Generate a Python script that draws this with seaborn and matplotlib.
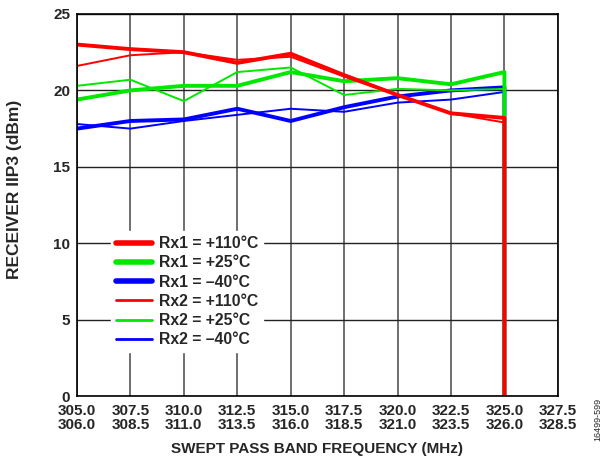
import numpy as np
import pandas as pd
import matplotlib
matplotlib.use("Agg")
import matplotlib.pyplot as plt
import seaborn as sns

# frequency points (MHz, Rx1 scale); the last point is the drop-out at 325.0
freq = [305.0, 307.5, 310.0, 312.5, 315.0, 317.5, 320.0, 322.5, 325.0, 325.0]

rx1_110 = [23.0, 22.7, 22.5, 21.8, 22.4, 21.0, 19.7, 18.5, 18.2, 0.0]
rx1_25 = [19.4, 20.0, 20.3, 20.3, 21.2, 20.6, 20.8, 20.4, 21.2, 0.0]
rx1_m40 = [17.5, 18.0, 18.1, 18.8, 18.0, 18.9, 19.6, 20.0, 20.2, 0.0]
rx2_110 = [21.6, 22.3, 22.5, 22.0, 22.2, 20.9, 19.7, 18.5, 17.9, 0.0]
rx2_25 = [20.3, 20.7, 19.3, 21.2, 21.5, 19.7, 20.1, 20.0, 20.1, 0.0]
rx2_m40 = [17.8, 17.5, 18.0, 18.4, 18.8, 18.6, 19.2, 19.4, 19.9, 0.0]

xticks = [305.0, 307.5, 310.0, 312.5, 315.0, 317.5, 320.0, 322.5, 325.0, 327.5]
xticks_rx2 = [306.0, 308.5, 311.0, 313.5, 316.0, 318.5, 321.0, 323.5, 326.0, 328.5]
yticks = [0, 5, 10, 15, 20, 25]

sns.set_style("white")
plt.rcParams['font.family'] = ['Liberation Sans', 'DejaVu Sans']
plt.rcParams['font.weight'] = 'bold'

RED, GREEN, BLUE = '#FF0000', '#00E800', '#0000FF'

series = [
    ('Rx1 = +110°C', rx1_110, RED, 2.8),
    ('Rx1 = +25°C', rx1_25, GREEN, 2.8),
    ('Rx1 = \u201340°C', rx1_m40, BLUE, 2.8),
    ('Rx2 = +110°C', rx2_110, RED, 1.4),
    ('Rx2 = +25°C', rx2_25, GREEN, 1.4),
    ('Rx2 = \u201340°C', rx2_m40, BLUE, 1.4),
]

fig = plt.figure(figsize=(6.11, 4.66), dpi=100)
ax = fig.add_axes([0.126, 0.150, 0.787, 0.820])

# draw blue first, then green, red on top
draw_order = [2, 5, 1, 4, 0, 3]
handles = {}
for i in draw_order:
    label, vals, col, lw = series[i]
    df = pd.DataFrame({'f': freq, 'v': vals})
    sns.lineplot(data=df, x='f', y='v', ax=ax, color=col, linewidth=lw,
                 estimator=None, sort=False, label=label, legend=False)
    handles[i] = ax.lines[-1]

ax.set_xlim(305, 327.5)
ax.set_ylim(0, 25)
ax.set_xticks(xticks)
ax.set_xticklabels([f"{a:.1f}\n{b:.1f}" for a, b in zip(xticks, xticks_rx2)],
                   fontsize=11, fontweight='bold', linespacing=0.95)
ax.set_yticks(yticks)
ax.set_yticklabels([str(t) for t in yticks], fontsize=11, fontweight='bold')
ax.tick_params(axis='x', length=0, pad=6)
ax.tick_params(axis='y', length=0, pad=5)

ax.grid(True, axis='x', color='#555555', linewidth=1.2)
ax.grid(True, axis='y', color='#222222', linewidth=1.0)
ax.set_axisbelow(True)
for s in ax.spines.values():
    s.set_color('black')
    s.set_linewidth(1.2)

ax.set_xlabel('SWEPT PASS BAND FREQUENCY (MHz)', fontsize=11, fontweight='bold', labelpad=7)
ax.set_ylabel('RECEIVER IIP3 (dBm)', fontsize=12.5, fontweight='bold')
ax.yaxis.set_label_coords(-0.114, 0.54)

leg = ax.legend([handles[i] for i in range(6)], [s[0] for s in series],
                loc='lower left', bbox_to_anchor=(0.055, 0.095), frameon=True,
                fontsize=11.3, handlelength=2.3, labelspacing=0.27,
                handletextpad=0.45, borderpad=0.3)
leg.get_frame().set_edgecolor('white')
leg.get_frame().set_facecolor('white')
leg.get_frame().set_alpha(1.0)
for t in leg.get_texts():
    t.set_fontweight('bold')
for lh, s in zip(leg.get_lines(), series):
    lh.set_linewidth(4.0 if s[3] > 2 else 2.0)

fig.text(0.978, 0.10, '16499-599', rotation=90, fontsize=6.5, fontweight='normal',
         ha='center', va='center')

fig.savefig('out.png', dpi=100)
